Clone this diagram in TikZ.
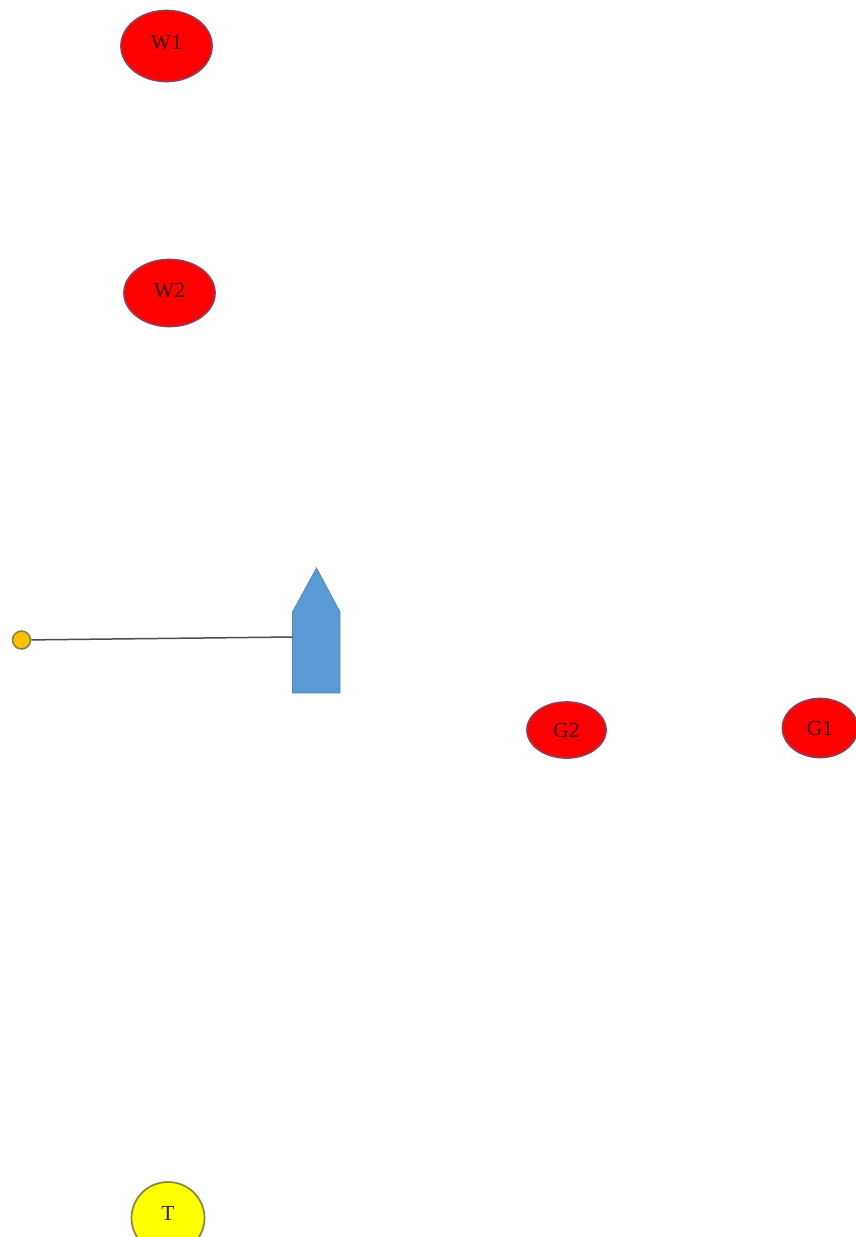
\documentclass[tikz,border=0pt]{standalone}
\usepackage{fontspec}
\setmainfont{Liberation Serif}
\usetikzlibrary{shapes.geometric}
\definecolor{mared}{HTML}{FF0000}
\definecolor{mayellow}{HTML}{FFFF00}
\definecolor{redline}{HTML}{9A3A50}
\definecolor{yelline}{HTML}{85854A}
\definecolor{boatblue}{HTML}{5B9BD5}
\definecolor{boatline}{HTML}{5A88B0}
\definecolor{ballfill}{HTML}{FFC000}
\definecolor{inkdark}{HTML}{3A0A0A}
\tikzset{
  buoy/.style={ellipse,inner sep=0pt,line width=1.7pt,font=\fontsize{21.5}{21.5}\selectfont,text=inkdark},
  redbuoy/.style={buoy,draw=redline,fill=mared},
  yelbuoy/.style={buoy,draw=yelline,fill=mayellow,text=black!85},
  ball/.style={circle,inner sep=0pt,minimum size=18pt,draw=yelline,fill=ballfill,line width=1.6pt},
  boatshape/.style={draw=boatline,fill=boatblue,line width=0.8pt,line join=miter},
  tether/.style={draw=black!70,line width=1.5pt}
}
\begin{document}
\begin{tikzpicture}[x=1pt,y=-1pt]
\useasboundingbox (0,0) rectangle (856,1237);
\node[redbuoy,minimum width=91pt,minimum height=71pt] (W1) at (166.5,46) {\raisebox{8pt}{W1}};
\node[redbuoy,minimum width=91pt,minimum height=67pt] (W2) at (169.5,293) {\raisebox{5pt}{W2}};
\node[redbuoy,minimum width=79pt,minimum height=56pt] (G2) at (566.5,730) {G2};
\node[redbuoy,minimum width=75pt,minimum height=59pt] (G1) at (820,728) {G1};
\node[yelbuoy,minimum width=73pt,minimum height=72pt] (T) at (168,1218) {\raisebox{9pt}{T}};
\node[ball] (B) at (21.5,640) {};
\draw[boatshape] (292.5,612) -- (316.5,568) -- (340,612) -- (340,693) -- (292.5,693) -- cycle;
\coordinate (P) at (292.5,637);
\draw[tether] (B) -- (P);
\end{tikzpicture}
\end{document}
